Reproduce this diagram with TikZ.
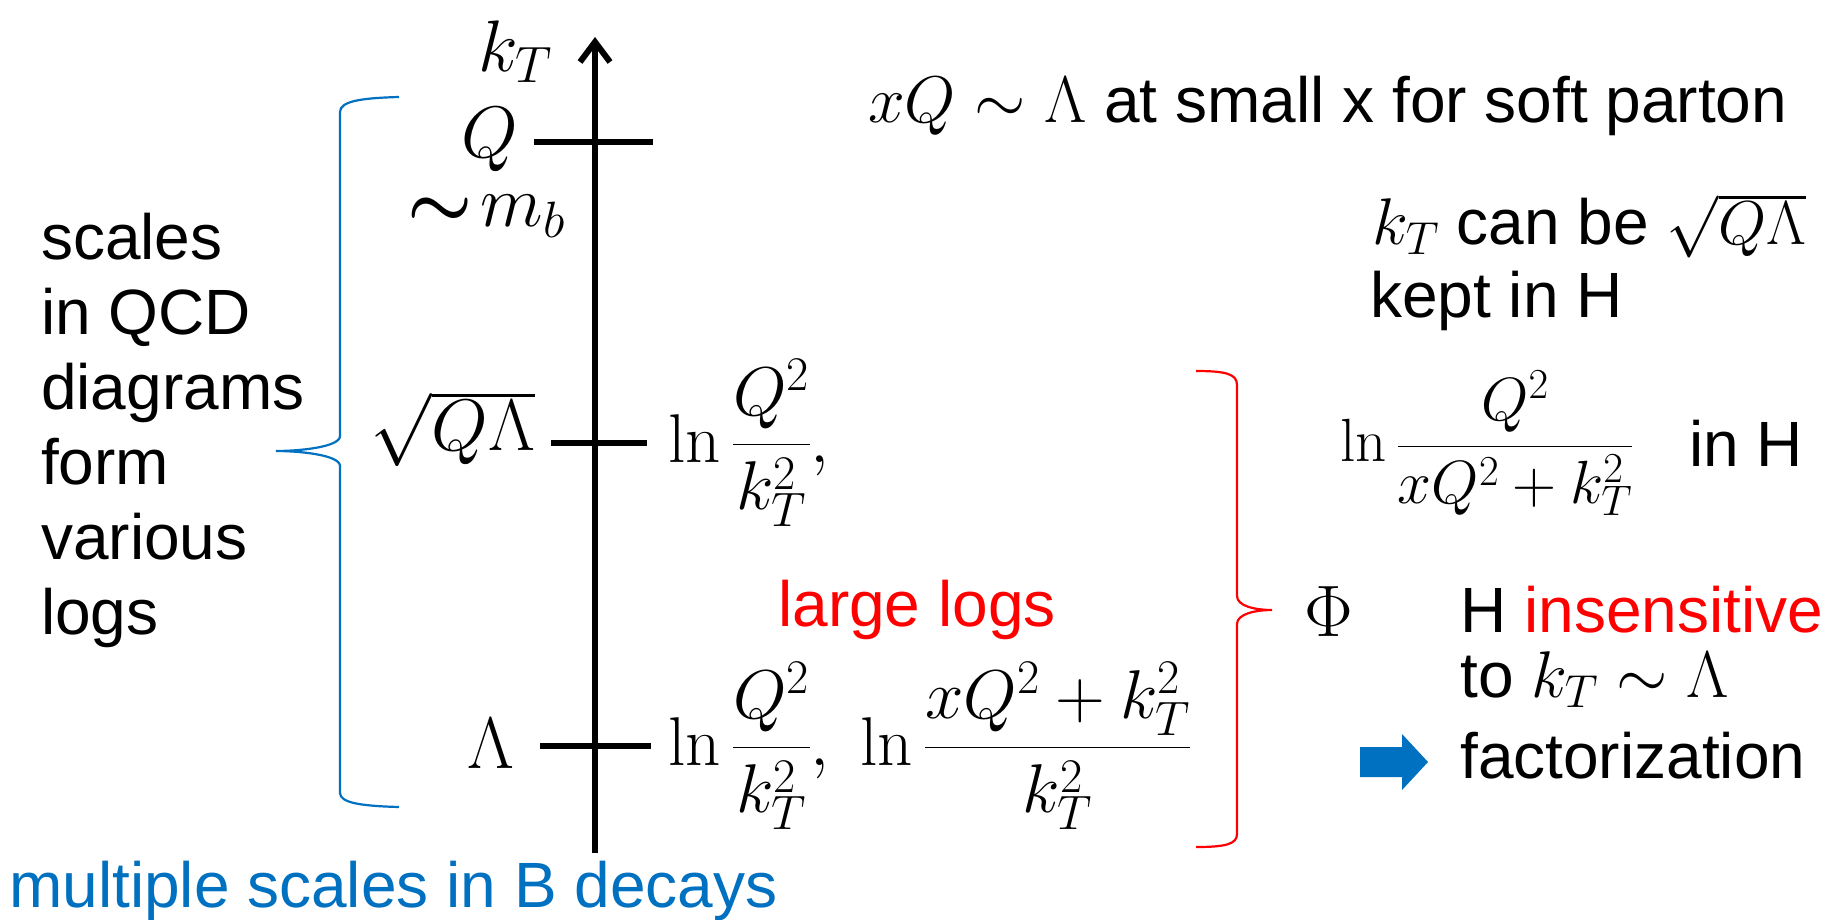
\RequirePackage{fix-cm}
\documentclass[tikz,border=0pt]{standalone}
\usepackage{amsmath}
\usepackage[no-math]{fontspec}
\setmainfont{Liberation Sans}
\usetikzlibrary{arrows.meta}
\definecolor{pblue}{RGB}{0,112,192}
\definecolor{pred}{RGB}{255,0,0}
\newcommand\msz{\fontsize{66}{76}\selectfont}
\tikzset{
  txt/.style={font=\fontsize{64}{75}\selectfont, inner sep=0pt},
  mth/.style={font=\msz, inner sep=0pt},
  bigm/.style={font=\fontsize{73}{84}\selectfont, inner sep=0pt},
  frm/.style={font=\fontsize{69}{80}\selectfont, inner sep=0pt},
  tick/.style={line width=6pt},
  axisline/.style={line width=6pt, -{Straight Barb[length=20pt,width=30pt]}},
  bluebrace/.style={draw=pblue, line width=2.2pt},
  redbrace/.style={draw=pred, line width=2.2pt}
}
\begin{document}
\begin{tikzpicture}[x=1pt,y=-1pt]
\useasboundingbox (0,0) rectangle (1839,919);
\fill[white] (0,0) rectangle (1839,919);

% axis
\coordinate (axbot) at (595,853);
\coordinate (axtop) at (595,37);
\draw[axisline] (axbot) -- (axtop);
\node[bigm] (kT) at (515,52) {$k_T$};

% ticks
\coordinate (tQa) at (534,142); \coordinate (tQb) at (653,142);
\coordinate (tSa) at (551,443); \coordinate (tSb) at (647,443);
\coordinate (tLa) at (540,746); \coordinate (tLb) at (651,746);
\draw[tick] (tQa) -- (tQb);
\draw[tick] (tSa) -- (tSb);
\draw[tick] (tLa) -- (tLb);

\node[bigm] (Q) at (490,140) {$Q$};
\node[bigm] (mb) at (486,216) {$\boldsymbol{\sim}\! m_b$};
\node[bigm] (sq) at (453,429) {$\sqrt{Q\Lambda}$};
\node[bigm] (Lam) at (491,744) {$\Lambda$};

\node[frm, anchor=west] (lnA) at (668,443) {$\displaystyle \ln\frac{Q^2}{k_T^2},$};
\node[frm, anchor=west] (lnB) at (668,746) {$\displaystyle \ln\frac{Q^2}{k_T^2},\ \ln\frac{xQ^2+k_T^2}{k_T^2}$};

\node[txt, text=pred] (large) at (917,610) {large logs};

% left text and blue brace
\node[txt, anchor=west, align=left] (scales) at (41,430) {scales\\in QCD\\diagrams\\form\\various\\logs};
\draw[bluebrace] (399,97) .. controls (362,98) and (340,101) .. (340,112) -- (340,436)
  .. controls (340,447) and (300,451) .. (276,451)
  .. controls (300,451) and (340,455) .. (340,466) -- (340,793)
  .. controls (340,803) and (362,806) .. (399,807);

% red brace
\draw[redbrace] (1196,371) .. controls (1226,371) and (1237,374) .. (1237,385) -- (1237,596)
  .. controls (1237,606) and (1255,610) .. (1272,610)
  .. controls (1255,610) and (1237,614) .. (1237,624) -- (1237,834)
  .. controls (1237,844) and (1226,847) .. (1196,847);
\node[bigm] (Phi) at (1329,612) {$\Phi$};

% right column
\node[txt, anchor=west] (xq) at (868,106) {{\msz$xQ\sim\Lambda$} at small x for soft parton};
\node[txt, anchor=west] (kt2) at (1372,226) {{\msz$k_T$} can be {\fontsize{62}{70}\selectfont$\sqrt{Q\Lambda}$}};
\node[txt, anchor=west] (kept) at (1370,301) {kept in H};
\node[mth, anchor=west, font=\fontsize{61}{70}\selectfont] (lnC) at (1340,443) {$\displaystyle\ln\frac{Q^2}{xQ^2+k_T^2}$};
\node[txt, anchor=west] (inH) at (1689,443) {in H};
\node[txt, anchor=west] (Hins) at (1460,610) {H \textcolor{pred}{insensitive}};
\node[txt, anchor=west] (to) at (1460,680) {to {\msz$k_T\sim\Lambda$}};
\node[txt, anchor=west] (fac) at (1460,756) {factorization};
\fill[pblue] (1360,747) -- (1402,747) -- (1402,734) -- (1428,762) -- (1402,790) -- (1402,777) -- (1360,777) -- cycle;

\node[txt, anchor=west, text=pblue] (multi) at (9,891) {multiple scales in B decays};
\end{tikzpicture}
\end{document}
